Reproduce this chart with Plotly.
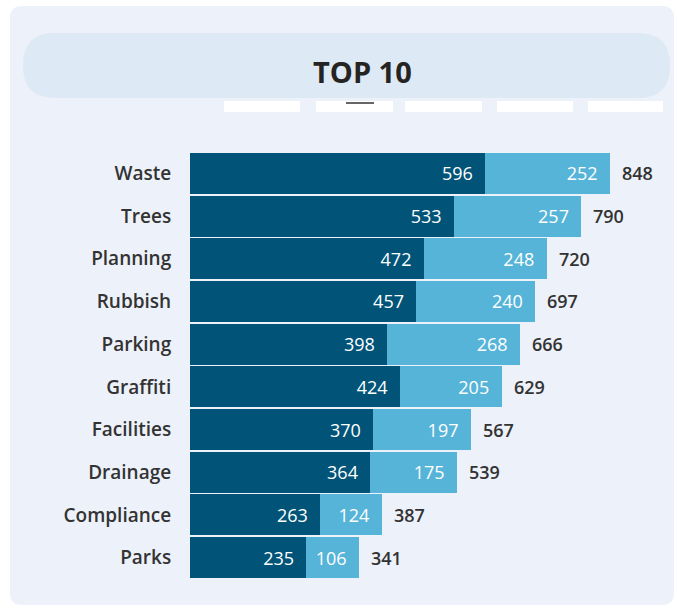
import plotly.graph_objects as go

categories = ["Waste", "Trees", "Planning", "Rubbish", "Parking", "Graffiti",
              "Facilities", "Drainage", "Compliance", "Parks"]
series_a = [596, 533, 472, 457, 398, 424, 370, 364, 263, 235]
series_b = [252, 257, 248, 240, 268, 205, 197, 175, 124, 106]
totals = [a + b for a, b in zip(series_a, series_b)]
title_text = "TOP 10"

W, H = 677, 609
L, R, T, B = 190, 17, 152, 30
PW, PH = W - L - R, H - T - B

def px(x):
    return (x - L) / PW

def py(y):
    return (H - B - y) / PH

def rrect(x0, y0, x1, y1, r):
    pts = [
        f"M {px(x0 + r)},{py(y0)}",
        f"L {px(x1 - r)},{py(y0)}",
        f"Q {px(x1)},{py(y0)} {px(x1)},{py(y0 + r)}",
        f"L {px(x1)},{py(y1 - r)}",
        f"Q {px(x1)},{py(y1)} {px(x1 - r)},{py(y1)}",
        f"L {px(x0 + r)},{py(y1)}",
        f"Q {px(x0)},{py(y1)} {px(x0)},{py(y1 - r)}",
        f"L {px(x0)},{py(y0 + r)}",
        f"Q {px(x0)},{py(y0)} {px(x0 + r)},{py(y0)}",
        "Z",
    ]
    return " ".join(pts)

FONT = "Open Sans"
DARK = "#015478"
LIGHT = "#56b4d9"
NB = "\u00a0\u00a0"

fig = go.Figure()
fig.add_trace(go.Bar(
    y=categories, x=series_a, orientation="h", marker=dict(color=DARK, line=dict(width=0)),
    text=[f"{v}{NB}" for v in series_a], textposition="inside", insidetextanchor="end",
    textfont=dict(color="white", size=18, family=FONT), cliponaxis=False,
    hoverinfo="skip", textangle=0,
))
fig.add_trace(go.Bar(
    y=categories, x=series_b, orientation="h", marker=dict(color=LIGHT, line=dict(width=0)),
    text=[f"{v}{NB}" for v in series_b], textposition="inside", insidetextanchor="end",
    textfont=dict(color="white", size=18, family=FONT), cliponaxis=False,
    hoverinfo="skip", textangle=0,
))

shapes = [
    dict(type="path", xref="paper", yref="paper", layer="below",
         path=rrect(10, 6, 674, 605, 12), fillcolor="#edf1f9", line=dict(width=0)),
    dict(type="path", xref="paper", yref="paper", layer="below",
         path=rrect(23, 33, 670, 98, 32), fillcolor="#dde9f4", line=dict(width=0)),
]
for x0, x1 in [(224, 300), (316, 393), (405, 482), (497, 573), (588, 663)]:
    shapes.append(dict(type="rect", xref="paper", yref="paper", layer="below",
                       x0=px(x0), x1=px(x1), y0=py(112), y1=py(101),
                       fillcolor="#ffffff", line=dict(width=0)))
shapes.append(dict(type="line", xref="paper", yref="paper", layer="above",
                   x0=px(346), x1=px(374), y0=py(103), y1=py(103),
                   line=dict(color="#666666", width=2)))

annotations = [dict(text=f"<b>{title_text}</b>", xref="paper", yref="paper",
                    x=px(362), y=py(71), showarrow=False,
                    font=dict(size=29, family=FONT, color="#252423"),
                    xanchor="center", yanchor="middle")]
for c, t in zip(categories, totals):
    annotations.append(dict(text=str(t), x=t, y=c, xref="x", yref="y",
                            showarrow=False, xanchor="left", yanchor="middle",
                            xshift=10,
                            font=dict(size=18, family=FONT, color="#333333", weight=600)))

fig.update_layout(
    width=W, height=H, margin=dict(l=L, r=R, t=T, b=B),
    paper_bgcolor="#ffffff", plot_bgcolor="rgba(0,0,0,0)",
    barmode="stack", bargap=0.04, showlegend=False,
    shapes=shapes,
    font=dict(family=FONT, color="#333333"),
    annotations=annotations,
    uniformtext=dict(mode=False),
)
fig.update_xaxes(range=[0, PW / ((610 - 190) / 848)], visible=False, fixedrange=True)
fig.update_yaxes(autorange="reversed", showgrid=False, zeroline=False, showline=False,
                 ticks="outside", ticklen=14, tickcolor="rgba(0,0,0,0)",
                 tickfont=dict(size=19, family=FONT, color="#333333", weight=600),
                 fixedrange=True)

fig.write_html("out.html", config=dict(displayModeBar=False))
